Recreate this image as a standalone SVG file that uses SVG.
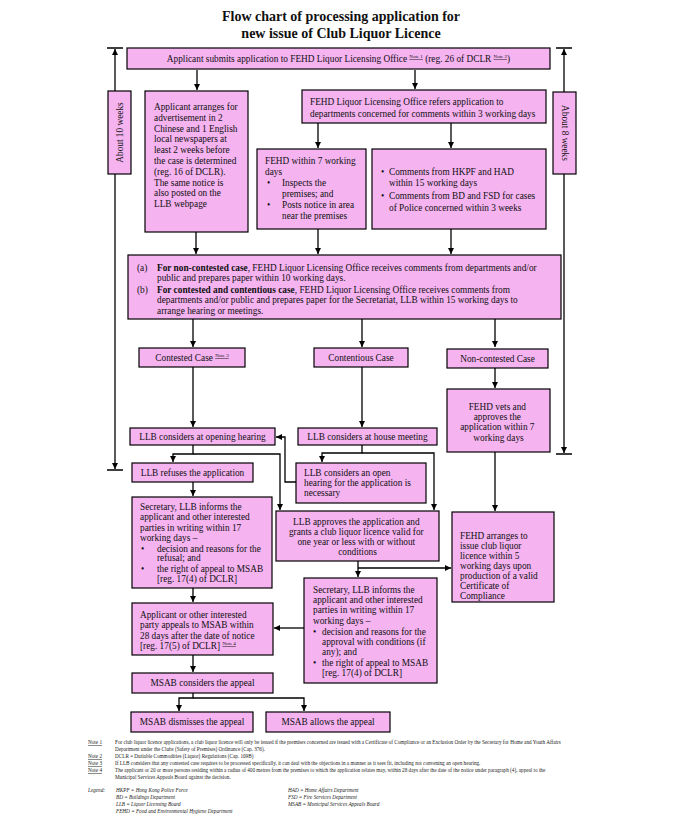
<svg xmlns="http://www.w3.org/2000/svg" width="683" height="817" viewBox="0 0 683 817">
<style>
.b{fill:#F5B3F0;stroke:#000;stroke-width:1.2}
.t{font-family:"Liberation Serif","Times New Roman",serif;font-size:9.3px;fill:#111}
.c{text-anchor:middle}
.bd{font-weight:bold}
.sup{font-size:5px;text-decoration:underline}
.l{stroke:#000;stroke-width:1.3;fill:none}
.a{marker-end:url(#ar)}
.n{font-family:"Liberation Serif","Times New Roman",serif;font-size:5.2px;fill:#222}
.ni{font-style:italic}
.u{text-decoration:underline}
.ttl{font-family:"Liberation Serif","Times New Roman",serif;font-size:14px;font-weight:bold;fill:#111;text-anchor:middle}
</style>
<defs>
<marker id="ar" viewBox="0 0 10 10" refX="10" refY="5" markerWidth="7" markerHeight="6" markerUnits="userSpaceOnUse" orient="auto-start-reverse">
<path d="M0,0 L10,5 L0,10 z" fill="#000"/>
</marker>
</defs>
<rect width="683" height="817" fill="#fff"/>
<text class="ttl" x="341" y="21">Flow chart of processing application for</text>
<text class="ttl" x="341" y="38">new issue of Club Liquor Licence</text>

<g id="connectors">
<path class="l a" d="M197,70 V90"/>
<path class="l a" d="M415,70 V89"/>
<path class="l a" d="M196,232 V254"/>
<path class="l a" d="M318,123 V148"/>
<path class="l a" d="M451,123 V148"/>
<path class="l a" d="M318,229 V254"/>
<path class="l a" d="M451,229 V254"/>
<path class="l a" d="M193,319 V347"/>
<path class="l a" d="M362,319 V347"/>
<path class="l a" d="M495,319 V347"/>
<path class="l a" d="M193,367 V427"/>
<path class="l a" d="M362,367 V427"/>
<path class="l a" d="M495,368 V388"/>
<path class="l a" d="M193,445 V454 H173 V462"/>
<path class="l a" d="M193,454 H280 V510"/>
<path class="l a" d="M362,445 V453 H322 V462"/>
<path class="l a" d="M362,453 H434 V510"/>
<path class="l a" d="M296,482 H285 V437 H276"/>
<path class="l a" d="M495,452 V511"/>
<path class="l a" d="M193,482 V496"/>
<path class="l a" d="M358,561 V577"/>
<path class="l a" d="M358,568 H451"/>
<path class="l a" d="M193,588 V602"/>
<path class="l a" d="M304,628 H274"/>
<path class="l a" d="M193,655 V672"/>
<path class="l a" d="M193,693 V698 H179 V711"/>
<path class="l a" d="M193,698 H304 V711"/>
<path class="l" d="M115,49 V469" marker-start="url(#ar)" marker-end="url(#ar)"/>
<path class="l" d="M107,48 H123 M107,470 H123"/>
<path class="l" d="M564,49 V453" marker-start="url(#ar)" marker-end="url(#ar)"/>
<path class="l" d="M556,48 H572 M556,454 H572"/>
</g>

<g id="n-submit">
<rect class="b" x="127" y="48" width="423" height="21"/>
<text class="t c" x="338.5" y="62">Applicant submits application to FEHD Liquor Licensing Office <tspan class="sup" dy="-4">Note 1</tspan><tspan dy="4"> (reg. 26 of DCLR </tspan><tspan class="sup" dy="-4">Note 2</tspan><tspan dy="4">)</tspan></text>
</g>

<g id="n-10weeks">
<rect class="b" x="108" y="91" width="23" height="83"/>
<text class="t c" transform="translate(122.5,132.5) rotate(-90)" x="0" y="0">About 10 weeks</text>
</g>

<g id="n-8weeks">
<rect class="b" x="553" y="92" width="23" height="82"/>
<text class="t c" transform="translate(561.5,133) rotate(90)" x="0" y="0">About 8 weeks</text>
</g>

<g id="n-advert">
<rect class="b" x="145" y="91" width="103" height="141"/>
<text class="t" x="154">
<tspan x="154" y="110">Applicant arranges for</tspan>
<tspan x="154" y="121">advertisement in 2</tspan>
<tspan x="154" y="131.5">Chinese and 1 English</tspan>
<tspan x="154" y="142">local newspapers at</tspan>
<tspan x="154" y="153">least 2 weeks before</tspan>
<tspan x="154" y="164">the case is determined</tspan>
<tspan x="154" y="175">(reg. 16 of DCLR).</tspan>
<tspan x="154" y="185.5">The same notice is</tspan>
<tspan x="154" y="196">also posted on the</tspan>
<tspan x="154" y="207">LLB webpage</tspan>
</text>
</g>

<g id="n-refers">
<rect class="b" x="302" y="90" width="244" height="33"/>
<text class="t">
<tspan x="310" y="105">FEHD Liquor Licensing Office refers application to</tspan>
<tspan x="310" y="117">departments concerned for comments within 3 working days</tspan>
</text>
</g>

<g id="n-inspect">
<rect class="b" x="257" y="149" width="109" height="80"/>
<text class="t">
<tspan x="265" y="164">FEHD within 7 working</tspan>
<tspan x="265" y="175">days</tspan>
<tspan x="267" y="186">•</tspan><tspan x="282" y="186">Inspects the</tspan>
<tspan x="282" y="197">premises; and</tspan>
<tspan x="267" y="208">•</tspan><tspan x="282" y="208">Posts notice in area</tspan>
<tspan x="282" y="219">near the premises</tspan>
</text>
</g>

<g id="n-comments">
<rect class="b" x="372" y="149" width="174" height="80"/>
<text class="t">
<tspan x="381" y="175">•</tspan><tspan x="389" y="175">Comments from HKPF and HAD</tspan>
<tspan x="389" y="186">within 15 working days</tspan>
<tspan x="381" y="199">•</tspan><tspan x="389" y="199">Comments from BD and FSD for cases</tspan>
<tspan x="389" y="211">of Police concerned within 3 weeks</tspan>
</text>
</g>

<g id="n-receive">
<rect class="b" x="128" y="255" width="433" height="64"/>
<text class="t">
<tspan x="137" y="271">(a)</tspan><tspan x="157" y="271" class="bd">For non-contested case</tspan><tspan>, FEHD Liquor Licensing Office receives comments from departments and/or</tspan>
<tspan x="157" y="281">public and prepares paper within 10 working days.</tspan>
<tspan x="137" y="292.5">(b)</tspan><tspan x="157" y="292.5" class="bd">For contested and contentious case</tspan><tspan>, FEHD Liquor Licensing Office receives comments from</tspan>
<tspan x="157" y="303">departments and/or public and prepares paper for the Secretariat, LLB within 15 working days to</tspan>
<tspan x="157" y="314">arrange hearing or meetings.</tspan>
</text>
</g>

<g id="n-contested">
<rect class="b" x="139" y="348" width="106" height="19"/>
<text class="t c" x="192" y="361">Contested Case <tspan class="sup" dy="-4">Note 3</tspan></text>
</g>
<g id="n-contentious">
<rect class="b" x="314" y="348" width="94" height="19"/>
<text class="t c" x="361" y="361">Contentious Case</text>
</g>
<g id="n-noncontested">
<rect class="b" x="447" y="349" width="101" height="19"/>
<text class="t c" x="497.5" y="362">Non-contested Case</text>
</g>

<g id="n-vets">
<rect class="b" x="447" y="389" width="103" height="63"/>
<text class="t c">
<tspan x="498.5" y="410">FEHD vets and</tspan>
<tspan x="498.5" y="420">approves the</tspan>
<tspan x="498.5" y="430">application within 7</tspan>
<tspan x="498.5" y="441">working days</tspan>
</text>
</g>

<g id="n-opening">
<rect class="b" x="130" y="428" width="145" height="17"/>
<text class="t c" x="202.5" y="440">LLB considers at opening hearing</text>
</g>
<g id="n-house">
<rect class="b" x="298" y="428" width="139" height="17"/>
<text class="t c" x="367.5" y="440">LLB considers at house meeting</text>
</g>

<g id="n-refuses">
<rect class="b" x="132" y="463" width="121" height="19"/>
<text class="t c" x="192.5" y="476">LLB refuses the application</text>
</g>

<g id="n-openhearing">
<rect class="b" x="296" y="463" width="130" height="40"/>
<text class="t">
<tspan x="304" y="476">LLB considers an open</tspan>
<tspan x="304" y="486">hearing for the application is</tspan>
<tspan x="304" y="496">necessary</tspan>
</text>
</g>

<g id="n-approves">
<rect class="b" x="276" y="511" width="163" height="50"/>
<text class="t c">
<tspan x="357.5" y="525">LLB approves the application and</tspan>
<tspan x="357.5" y="535">grants a club liquor licence valid for</tspan>
<tspan x="357.5" y="545">one year or less with or without</tspan>
<tspan x="357.5" y="555">conditions</tspan>
</text>
</g>

<g id="n-arranges">
<rect class="b" x="452" y="512" width="102" height="90"/>
<text class="t">
<tspan x="460" y="539">FEHD arranges to</tspan>
<tspan x="460" y="549">issue club liquor</tspan>
<tspan x="460" y="559">licence within 5</tspan>
<tspan x="460" y="569">working days upon</tspan>
<tspan x="460" y="579">production of a valid</tspan>
<tspan x="460" y="589">Certificate of</tspan>
<tspan x="460" y="599">Compliance</tspan>
</text>
</g>

<g id="n-inform-refusal">
<rect class="b" x="132" y="497" width="140" height="91"/>
<text class="t">
<tspan x="140" y="510">Secretary, LLB informs the</tspan>
<tspan x="140" y="520">applicant and other interested</tspan>
<tspan x="140" y="530.5">parties in writing within 17</tspan>
<tspan x="140" y="541">working days –</tspan>
<tspan x="141" y="551.5">•</tspan><tspan x="157" y="551.5">decision and reasons for the</tspan>
<tspan x="157" y="561">refusal; and</tspan>
<tspan x="141" y="571.5">•</tspan><tspan x="157" y="571.5">the right of appeal to MSAB</tspan>
<tspan x="157" y="582">[reg. 17(4) of DCLR]</tspan>
</text>
</g>

<g id="n-inform-approval">
<rect class="b" x="304" y="578" width="133" height="105"/>
<text class="t">
<tspan x="313" y="593">Secretary, LLB informs the</tspan>
<tspan x="313" y="603">applicant and other interested</tspan>
<tspan x="313" y="613">parties in writing within 17</tspan>
<tspan x="313" y="624">working days –</tspan>
<tspan x="313" y="635">•</tspan><tspan x="322" y="635">decision and reasons for the</tspan>
<tspan x="322" y="645">approval with conditions (if</tspan>
<tspan x="322" y="655">any); and</tspan>
<tspan x="313" y="665.5">•</tspan><tspan x="322" y="665.5">the right of appeal to MSAB</tspan>
<tspan x="322" y="675.5">[reg. 17(4) of DCLR]</tspan>
</text>
</g>

<g id="n-appeal">
<rect class="b" x="132" y="603" width="141" height="52"/>
<text class="t">
<tspan x="140" y="618">Applicant or other interested</tspan>
<tspan x="140" y="628">party appeals to MSAB within</tspan>
<tspan x="140" y="639">28 days after the date of notice</tspan>
<tspan x="140" y="649">[reg. 17(5) of DCLR] </tspan><tspan class="sup" dy="-4">Note 4</tspan>
</text>
</g>

<g id="n-msab">
<rect class="b" x="132" y="673" width="141" height="20"/>
<text class="t c" x="202.5" y="686">MSAB considers the appeal</text>
</g>
<g id="n-dismiss">
<rect class="b" x="131" y="712" width="122" height="20"/>
<text class="t c" x="192" y="725">MSAB dismisses the appeal</text>
</g>
<g id="n-allow">
<rect class="b" x="266" y="712" width="124" height="20"/>
<text class="t c" x="328" y="725">MSAB allows the appeal</text>
</g>

<g id="notes">
<text class="n u" x="88" y="744">Note 1</text>
<text class="n" x="115" y="744">For club liquor licence applications, a club liquor licence will only be issued if the premises concerned are issued with a Certificate of Compliance or an Exclusion Order by the Secretary for Home and Youth Affairs</text>
<text class="n" x="115" y="751">Department under the Clubs (Safety of Premises) Ordinance (Cap. 376).</text>
<text class="n u" x="88" y="758">Note 2</text>
<text class="n" x="115" y="758">DCLR = Dutiable Commodities (Liquor) Regulations (Cap. 109B)</text>
<text class="n u" x="88" y="765">Note 3</text>
<text class="n" x="115" y="765">If LLB considers that any contested case requires to be processed specifically, it can deal with the objections in a manner as it sees fit, including not convening an open hearing.</text>
<text class="n u" x="88" y="772">Note 4</text>
<text class="n" x="115" y="772">The applicant or 20 or more persons residing within a radius of 400 metres from the premises to which the application relates may, within 28 days after the date of the notice under paragraph (4), appeal to the</text>
<text class="n" x="115" y="779">Municipal Services Appeals Board against the decision.</text>
<text class="n ni" x="88" y="792">Legend:</text>
<text class="n ni" x="116" y="792">HKPF = Hong Kong Police Force</text>
<text class="n ni" x="116" y="799">BD = Buildings Department</text>
<text class="n ni" x="116" y="806">LLB = Liquor Licensing Board</text>
<text class="n ni" x="116" y="813">FEHD = Food and Environmental Hygiene Department</text>
<text class="n ni" x="288" y="792">HAD = Home Affairs Department</text>
<text class="n ni" x="288" y="799">FSD = Fire Services Department</text>
<text class="n ni" x="288" y="806">MSAB = Municipal Services Appeals Board</text>
</g>
</svg>
